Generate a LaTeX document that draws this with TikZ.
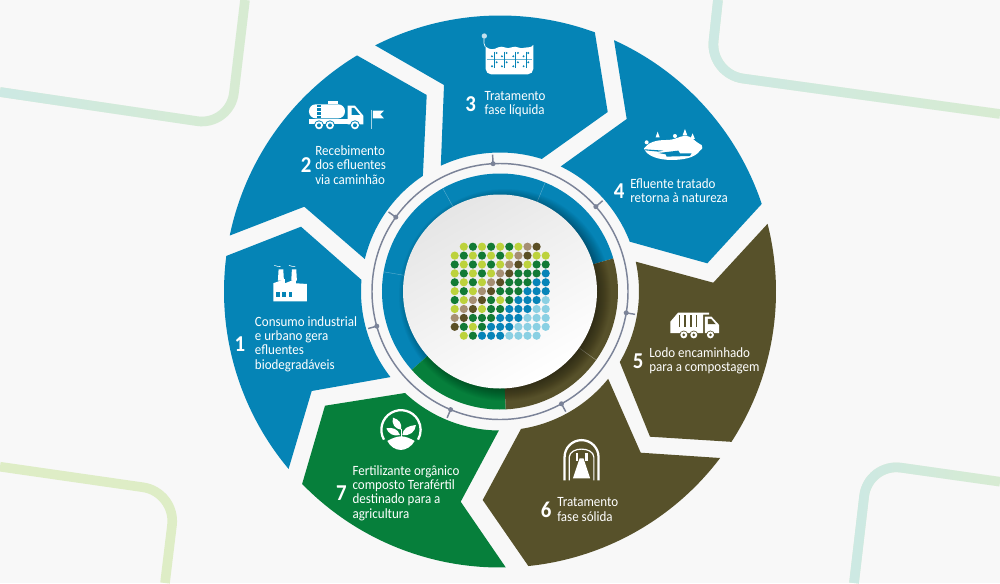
\documentclass[tikz,border=0pt]{standalone}
\usepackage{fontspec}
\usepackage{xcolor}
\setmainfont[FakeStretch=0.92]{Carlito}
\usetikzlibrary{calc}
\usetikzlibrary{positioning}
\usetikzlibrary{fadings}

\definecolor{paper}{HTML}{F8F8F8}
\definecolor{segblue}{HTML}{0584B6}
\definecolor{segolive}{HTML}{57512A}
\definecolor{seggreen}{HTML}{067F3B}
\definecolor{ringgray}{HTML}{7B8398}
\definecolor{dotL}{HTML}{BDD23C}
\definecolor{dotG}{HTML}{127A35}
\definecolor{dotT}{HTML}{A68F73}
\definecolor{dotB}{HTML}{5B4F25}
\definecolor{dotU}{HTML}{0784B8}
\definecolor{dotS}{HTML}{8AD0E3}
\definecolor{bandteal}{HTML}{CDE9E4}
\definecolor{bandmint}{HTML}{D8ECD2}
\definecolor{bandlime}{HTML}{DEEDC6}

\newcommand{\rimarc}[2]{([shift={(500,291.5)}]#1:276) arc[start angle=#1,end angle=#2,radius=276]}
\newcommand{\innerarc}[2]{-- ([shift={(500,291.5)}]#1:139) arc[start angle=#1,end angle=#2,radius=139]}

\begin{document}
\begin{tikzpicture}[x=0.75pt,y=0.75pt,yscale=-1]
		\tikzstyle{band} = [line width=7.2pt, rounded corners=25pt]
		\tikzstyle{icon} = [fill=white, draw=none]
		\tikzstyle{steptext} = [text=white, align=left, anchor=west, inner sep=0pt, font=\fontsize{10.6}{10.65}\selectfont]
		\tikzstyle{stepnum} = [text=white, inner sep=0pt, font=\fontsize{17}{17}\selectfont\bfseries]
		\tikzstyle{ringline} = [draw=ringgray, line width=1.1pt]

		\useasboundingbox (0,0) rectangle (1000,583);
		\fill[paper] (0,0) rectangle (1000,583);
		\coordinate (Hub) at (500,291.5);

		% corners of the backdrop
		\draw[band, draw=bandmint] (0,92) -- (230,126) -- (245,0);
		\draw[band, draw=bandteal, path fading=east] (0,92) -- (230,126) -- (245,0);
		\draw[band, draw=bandmint] (718,0) -- (710,74) -- (1000,114);
		\draw[band, draw=bandteal, path fading=east] (718,0) -- (710,74) -- (1000,114);
		\draw[band, draw=bandlime] (0,466.7) -- (176,492) -- (165,583);
		\draw[band, draw=bandmint] (854,583) -- (868,463) -- (1000,481.7);
		\draw[band, draw=bandteal, path fading=east] (854,583) -- (868,463) -- (1000,481.7);

		% seven segments
		\fill[segblue] \rimarc{140}{187.4} -- (301,226.7) \innerarc{184.8}{142} -- (311.7,391) -- cycle;
		\fill[segblue] \rimarc{191.7}{238.8} -- (426.7,95) \innerarc{236.3}{193.5} -- (304.3,206.7) -- cycle;
		\fill[segblue] \rimarc{243.1}{290.1} -- (607.7,112) \innerarc{287.5}{244.8} -- (444,85) -- cycle;
		\fill[segblue] \rimarc{294.4}{341.5} -- (707.3,263.3) \innerarc{339}{295.9} -- (626.7,119) -- cycle;
		\fill[segolive] \rimarc{-14.2}{33} -- (650,436.7) \innerarc{30.5}{-12.4} -- (713.3,282.7) -- cycle;
		\fill[segolive] \rimarc{37.1}{84.1} -- (482.7,500) \innerarc{81.3}{38.9} -- (640.7,452.7) -- cycle;
		\fill[seggreen] \rimarc{88.8}{135.8} -- (325,405.7) \innerarc{133.1}{90.5} -- (460.7,501.7) -- cycle;

		% inner ring
		\fill[segblue] (Hub) -- ++(-16.3:118) arc[start angle=-16.3,end angle=-221.6,radius=118] -- cycle;
		\fill[seggreen] (Hub) -- ++(87.2:118) arc[start angle=87.2,end angle=138.4,radius=118] -- cycle;
		\fill[segolive] (Hub) -- ++(-16.3:118) arc[start angle=-16.3,end angle=87.2,radius=118] -- cycle;
		\foreach \ang in {241,-67.5,189.6}
			\draw[segblue!65!white, line width=0.3pt] (Hub) ++(\ang:97) -- ++(\ang:21);
		\draw[segolive!60!white, line width=0.3pt] (Hub) ++(35.5:97) -- ++(35.5:21);
		\begin{scope}
			\clip (Hub) circle (118);
			\foreach \rad in {92,93,...,106}
				\fill[black, opacity=0.03] (505,295) circle (\rad);
		\end{scope}
		\shade[left color=black!10, middle color=white, right color=white, shading angle=30] (Hub) circle (97);

		\draw[ringline] (Hub) circle (128);
		\foreach \ang in {266.9,215.5,-41.5,9.6,61.3,112.7,164.3} {
			\draw[ringline] (Hub) ++(\ang:128) -- ++(\ang:9);
			\fill[ringgray] (Hub) ++(\ang:128) circle (2.5);
		}

		% dot matrix
		\foreach \row/\first/\cells in {
			0/1/{L,G,L,G,L,G,L,T,B},
			1/0/{L,G,L,G,L,G,L,T,B,L,L},
			2/0/{G,L,G,L,G,L,T,B,L,G,G},
			3/0/{L,G,L,G,L,T,B,G,G,G,U},
			4/0/{G,L,G,L,T,B,G,G,G,U,U},
			5/0/{L,G,L,T,B,G,G,G,U,U,U},
			6/0/{G,L,T,B,G,L,G,U,U,U,S},
			7/0/{L,T,B,L,G,G,U,U,U,S,S},
			8/0/{T,B,G,G,G,U,U,U,S,S,S},
			9/0/{B,G,L,G,U,U,U,S,S,S,S},
			10/1/{L,G,U,U,U,S,S,S,S}} {
			\foreach \c [count=\k from \first] in \cells
				\fill[fill=dot\c] ({454.7+9.1*\k},{246.7+8.9*\row}) circle (4.1);
		}

		% labels
		\node[steptext] (Consumo) at (254.7,344) {Consumo industrial\\e urbano gera\\efluentes\\biodegradáveis};
		\node[stepnum, left=7pt of Consumo] (NumConsumo) {1};
		\node[steptext] (Recebimento) at (315,165) {Recebimento\\dos efluentes\\via caminhão};
		\node[stepnum, left=2.5pt of Recebimento] (NumRecebimento) {2};
		\node[steptext] (Liquida) at (484.3,104) {Tratamento\\fase líquida};
		\node[stepnum, left=6pt of Liquida] (NumLiquida) {3};
		\node[steptext] (Retorna) at (630,191) {Efluente tratado\\retorna à natureza};
		\node[stepnum, left=4pt of Retorna] (NumRetorna) {4};
		\node[steptext] (Lodo) at (649,361) {Lodo encaminhado\\para a compostagem};
		\node[stepnum, left=4pt of Lodo] (NumLodo) {5};
		\node[steptext] (Solida) at (557,509.5) {Tratamento\\fase sólida};
		\node[stepnum, left=4pt of Solida] (NumSolida) {6};
		\node[steptext] (Fertilizante) at (352.3,493) {Fertilizante orgânico\\composto Terafértil\\destinado para a\\agricultura};
		\node[stepnum, left=4pt of Fertilizante] (NumFertilizante) {7};

		% factory
		\begin{scope}[shift={(210,240)},scale=0.333]
			\fill[icon] (190,184) -- (190,130) -- (225,117) -- (225,130) -- (258,117) -- (258,130) -- (291,132) -- (291,184) -- cycle;
			\fill[icon] (206,88) -- (220,88) -- (222,122) -- (204,122) -- cycle;
			\fill[icon] (246,88) -- (259,88) -- (261,122) -- (244,122) -- cycle;
			\draw[white, line width=0.4pt] (193,76) .. controls (200,74) and (203,84) .. (212,80);
			\draw[white, line width=0.4pt] (237,76) .. controls (243,74) and (247,84) .. (256,80);
			\foreach \x in {198,217,236}
				\fill[segblue] (\x,157) rectangle ++(11,15);
		\end{scope}

		% tanker truck and flag
		\begin{scope}[shift={(305,95)},scale=0.333]
			\fill[icon] (70,17) rectangle (100,28);
			\fill[icon, rounded corners=5pt] (12,28) rectangle (120,70);
			\fill[icon] (12,73) rectangle (175,88);
			\fill[icon] (128,32) -- (150,32) -- (175,62) -- (175,88) -- (128,88) -- cycle;
			\fill[segblue] (140,39) -- (148,39) -- (165,60) -- (140,60) -- cycle;
			\fill[segblue] (35,30) rectangle (47,70);
			\foreach \y in {36,48,60}
				\fill[icon] (35,\y) rectangle (47,\y+4);
			\foreach \x in {42,75,150} {
				\fill[segblue] (\x,91) circle (15);
				\fill[icon] (\x,91) circle (12);
				\fill[segblue] (\x,91) circle (6);
			}
			\draw[segblue!35!white, line width=0.8pt] (199,44) -- (199,102);
			\fill[icon] (204,47) -- (237,47) -- (226,58) -- (237,70) -- (204,70) -- cycle;
		\end{scope}

		% tank with reeds
		\begin{scope}[shift={(470,25)},scale=0.333]
			\fill[icon] (47,65) .. controls (60,75) and (70,75) .. (85,67) .. controls (100,60) and (110,75) .. (125,67) .. controls (140,60) and (150,75) .. (165,68) .. controls (175,65) and (183,70) .. (190,60) [rounded corners=4pt] -- (190,148) -- (47,148) [sharp corners] -- cycle;
			\draw[white, line width=0.5pt] (46,66) .. controls (40,60) and (42,50) .. (42,40);
			\fill[segblue!25!white] (43,33) circle (8);
			\draw[segblue!60!white, line width=0.6pt] (50,103) -- (187,103);
			\foreach \x in {73,103,137,168} {
				\draw[segblue, line width=0.6pt] (\x,80) -- (\x,130);
				\foreach \y/\dx in {84/7,94/-7,112/7,124/-7}
					\fill[segblue] (\x+\dx,\y) circle (3.2);
			}
		\end{scope}

		% island
		\begin{scope}[shift={(635,120)},scale=0.333]
			\fill[icon] (27,85) .. controls (40,68) and (60,60) .. (95,60) .. controls (120,60) and (130,50) .. (150,47) .. controls (170,47) and (178,65) .. (200,75) .. controls (205,85) and (200,90) .. (195,92) .. controls (180,115) and (140,120) .. (110,120) .. controls (75,120) and (35,110) .. (27,85) -- cycle;
			\fill[icon] (68,35) -- (62,52) -- (74,52) -- cycle;
			\fill[icon] (150,27) -- (143,46) -- (157,46) -- cycle;
			\fill[icon] (173,40) -- (166,57) -- (180,57) -- cycle;
			\fill[icon] (35,67) circle (6);
			\fill[icon] (120,48) circle (6);
			\fill[segblue] (30,88) -- (85,92) -- (70,95) -- (30,91) -- cycle;
			\fill[segblue] (70,99) -- (130,92) -- (135,100) -- (170,100) -- (165,108) -- (95,110) -- (92,103) -- cycle;
		\end{scope}

		% garbage truck and archway
		\begin{scope}[shift={(470,220)},scale=0.333]
			\fill[icon] (602,340) -- (602,305) -- (625,278) -- (718,278) -- (718,284) -- (700,284) -- (700,340) -- cycle;
			\foreach \x in {627,644,661,678}
				\fill[segolive] (\x,284) rectangle ++(5,38);
			\fill[icon] (705,290) -- (725,290) -- (748,315) -- (748,340) -- (705,340) -- cycle;
			\fill[segolive] (714,297) -- (724,297) -- (738,313) -- (714,313) -- cycle;
			\foreach \x in {642,672,722} {
				\fill[segolive] (\x,345) circle (13);
				\fill[icon] (\x,345) circle (10.5);
				\fill[segolive] (\x,345) circle (4.5);
			}
			\draw[white, line width=1.7pt] (284,782) -- (284,712) arc[start angle=180,end angle=360,radius=51] -- (386,782);
			\draw[white, line width=0.9pt] (298,782) -- (298,712) .. controls (300,680) and (370,680) .. (372,712) -- (372,782);
			\fill[icon] (317,700) rectangle (324,725);
			\fill[icon] (346,700) rectangle (353,725);
			\fill[icon] (329,716) -- (341,716) -- (361,776) -- (309,776) -- cycle;
		\end{scope}

		% seedling
		\begin{scope}[shift={(372,405)},scale=0.333]
			\draw[white, line width=1.7pt] (36,104) arc[start angle=150,end angle=390,radius=59];
			\fill[icon] (46,108) .. controls (60,100) and (75,94) .. (87,94) .. controls (100,94) and (115,100) .. (128,108) .. controls (120,125) and (100,135) .. (87,135) .. controls (70,135) and (55,125) .. (46,108) -- cycle;
			\fill[icon] (87,74) .. controls (92,55) and (80,43) .. (63,38) .. controls (58,55) and (68,72) .. (87,74) -- cycle;
			\fill[icon] (91,90) .. controls (92,70) and (110,62) .. (132,60) .. controls (130,80) and (114,94) .. (91,90) -- cycle;
			\fill[icon] (84,90) .. controls (78,72) and (62,66) .. (43,70) .. controls (48,85) and (65,96) .. (84,90) -- cycle;
			\draw[white, line width=0.4pt] (88,72) -- (88,95);
		\end{scope}

	\end{tikzpicture}
\end{document}
